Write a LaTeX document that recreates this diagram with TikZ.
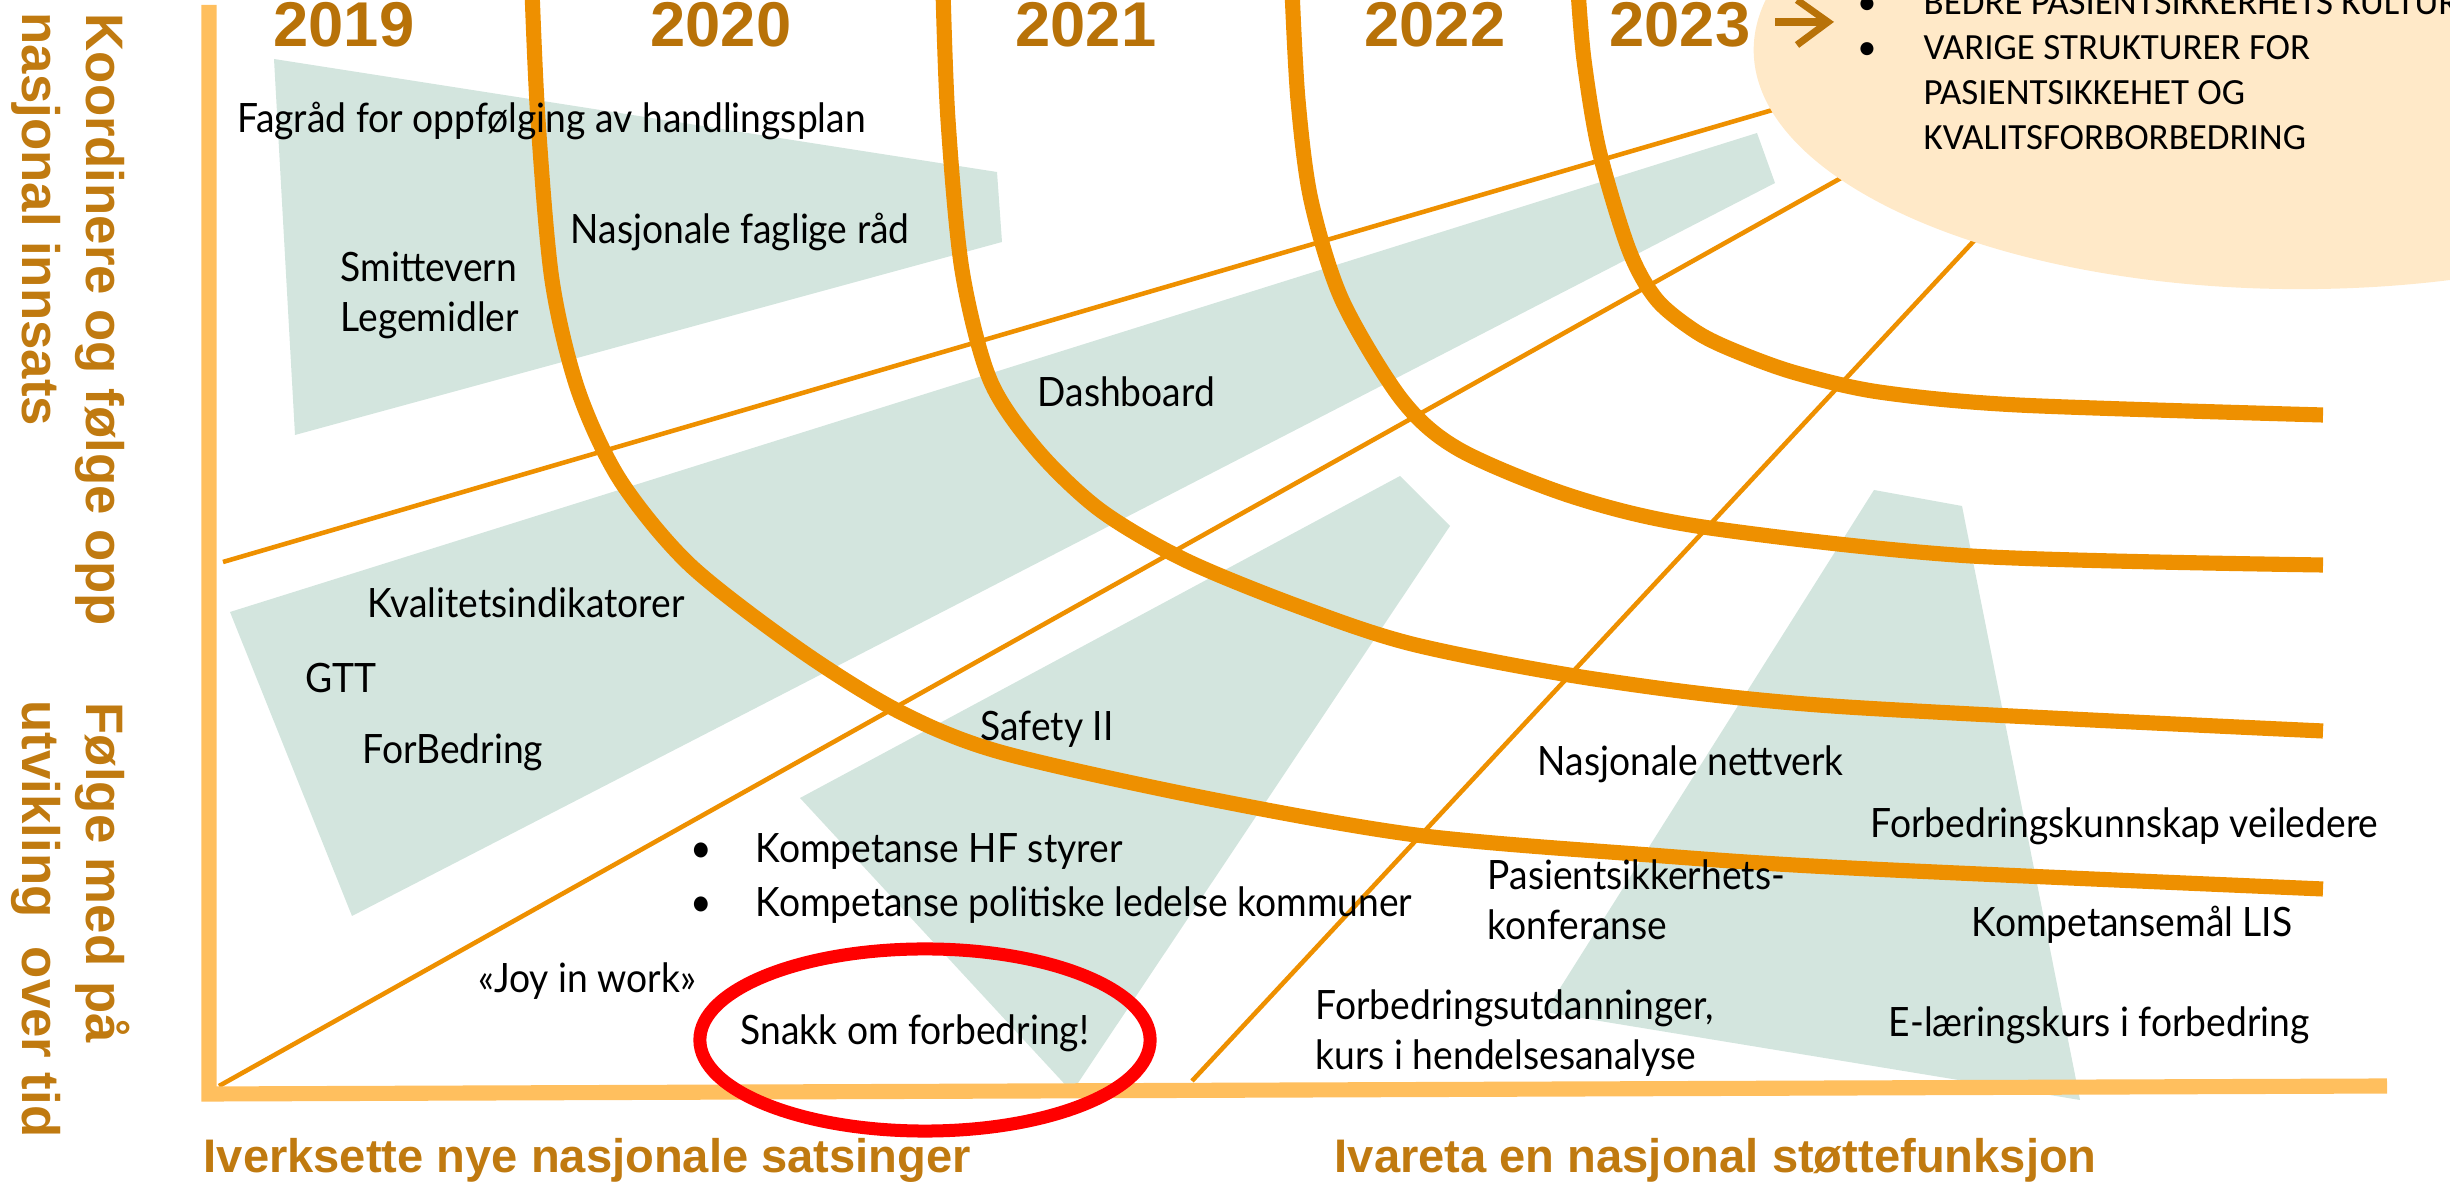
\documentclass[tikz,border=0pt]{standalone}
\usepackage{fontspec}
\setmainfont{Liberation Sans}
\newfontfamily\bodyfont{Lato}[FakeStretch=0.92]
\newfontfamily\calfont{Carlito}
\definecolor{sagec}{RGB}{211,229,222}
\definecolor{orngc}{RGB}{238,144,0}
\definecolor{axisc}{RGB}{255,191,94}
\definecolor{peachc}{RGB}{255,233,200}
\definecolor{yearc}{RGB}{184,114,8}
\definecolor{labc}{RGB}{192,122,16}
\begin{document}
\begin{tikzpicture}[x=0.01cm,y=-0.01cm,
  greenshape/.style={fill=sagec, draw=none},
  thinline/.style={draw=orngc, line width=1.3pt},
  bigcurve/.style={draw=orngc, line width=4.3pt},
  axisline/.style={draw=axisc, line width=4.3pt},
  txt/.style={anchor=base west, inner sep=0pt, font={\bodyfont\fontsize{11.5}{13}\selectfont}},
  bul/.style={anchor=base, inner sep=0pt, font={\bodyfont\fontsize{11.5}{13}\selectfont}},
  yearlab/.style={anchor=base, inner sep=0pt, text=yearc, font={\bfseries\fontsize{18}{20}\selectfont}},
  vlab/.style={rotate=-90, anchor=base west, inner sep=0pt, text=labc, font={\bfseries\fontsize{15}{17}\selectfont}},
  hlab/.style={anchor=base west, inner sep=0pt, text=labc, font={\bfseries\fontsize{13.4}{15}\selectfont}},
  caltxt/.style={anchor=base west, inner sep=0pt, font={\calfont\fontsize{10.5}{12}\selectfont}},
  calbul/.style={anchor=base, inner sep=0pt, font={\calfont\fontsize{10.5}{12}\selectfont}},
]
\useasboundingbox (0,0) rectangle (2450,1186);
\clip (0,0) rectangle (2450,1186);

% green shapes
\fill[greenshape] (274,59) -- (997,172) -- (1002,242) -- (295,435) -- cycle;
\fill[greenshape] (230,612) -- (1757,133) -- (1775,183) -- (352,916) -- cycle;
\fill[greenshape] (800,798) -- (1400,476) -- (1450,526) -- (1072,1092) -- cycle;
\fill[greenshape] (1874,490) -- (1962,506) -- (2080,1100) -- (1545,1012) -- cycle;

% thin lines
\coordinate (l1a) at (223,562); \coordinate (l1b) at (1800,102);
\coordinate (l2a) at (219,1086); \coordinate (l2b) at (1850,173);
\coordinate (l3a) at (1192,1081); \coordinate (l3b) at (1985,229);
\draw[thinline] (l1a) -- (l1b);
\draw[thinline] (l2a) -- (l2b);
\draw[thinline] (l3a) -- (l3b);

% goal ellipse
\fill[peachc] (2300,50) ellipse [x radius=5.46cm, y radius=2.39cm];

% thick year curves
\draw[bigcurve] plot[smooth, tension=0.5] coordinates {(532,-10) (538,120) (552,280) (578,390) (620,480) (690,565) (800,650) (900,712) (1000,752) (1200,797) (1416,835) (1650,855) (1850,868) (2323,889)};
\draw[bigcurve] plot[smooth, tension=0.5] coordinates {(943,-10) (948,120) (962,270) (990,380) (1037,450) (1100,510) (1185,560) (1300,607) (1416,645) (1601,680) (1832,706) (2323,731)};
\draw[bigcurve] plot[smooth, tension=0.5] coordinates {(1292,-10) (1298,100) (1311,200) (1342,300) (1402,400) (1460,450) (1574,497) (1703,527) (1971,556) (2323,565)};
\draw[bigcurve] plot[smooth, tension=0.5] coordinates {(1578,-10) (1584,60) (1599,150) (1629,250) (1657,300) (1698,333) (1740,353) (1796,373) (1879,392) (2018,405) (2323,415)};

% axes
\coordinate (axtop) at (209,5);
\coordinate (axcorner) at (209,1094);
\coordinate (axright) at (2387,1086);
\draw[axisline] (axtop) -- (axcorner) -- (axright);

% red ellipse
\draw[red, line width=3.7pt] (925,1040) ellipse [x radius=2.25cm, y radius=0.91cm];

% years
\node[yearlab] (y19) at (344,47) {2019};
\node[yearlab] (y20) at (721,47) {2020};
\node[yearlab] (y21) at (1086,47) {2021};
\node[yearlab] (y22) at (1435,47) {2022};
\node[yearlab] (y23) at (1680,47) {2023};
\coordinate (arA) at (1775,22); \coordinate (arB) at (1826,22);
\coordinate (arT) at (1797,0); \coordinate (arTip) at (1828,22); \coordinate (arD) at (1797,45);
\draw[yearc, line width=2pt] (arA) -- (arB);
\draw[yearc, line width=2pt] (arT) -- (arTip) -- (arD);

% ellipse text
\node[calbul] (eb1) at (1867,15) {\textbullet};
\node[calbul] (eb2) at (1867,60) {\textbullet};
\node[caltxt] (e1) at (1923,15) {BEDRE PASIENTSIKKERHETS KULTUR};
\node[caltxt] (e2) at (1923,60) {VARIGE STRUKTURER FOR};
\node[caltxt] (e3) at (1923,105) {PASIENTSIKKEHET OG};
\node[caltxt] (e4) at (1923,150) {KVALITSFORBORBEDRING};

% axis labels
\node[vlab] (v1) at (87,13) {Koordinere og følge opp};
\node[vlab] (v2) at (22,12) {nasjonal innsats};
\node[vlab] (v3) at (87,702) {Følge med på};
\node[vlab] (v4) at (22,700) {utvikling\ \ over tid};
\node[hlab] (h1) at (203,1173) {Iverksette nye nasjonale satsinger};
\node[hlab] (h2) at (1334,1173) {Ivareta en nasjonal støttefunksjon};

% body texts
\node[txt] (fag) at (237,133) {Fagråd for oppfølging av handlingsplan};
\node[txt] (smitte) at (340,282) {Smittevern};
\node[txt] (lege) at (340,332) {Legemidler};
\node[txt] (nfr) at (570,244) {Nasjonale faglige råd};
\node[txt] (dash) at (1037,407) {Dashboard};
\node[txt] (kval) at (367,618) {Kvalitetsindikatorer};
\node[txt] (gtt) at (305,693) {GTT};
\node[txt] (forb) at (362,764) {ForBedring};
\node[txt] (safety) at (980,741) {Safety II};
\node[bul] (kb1) at (701,863) {•};
\node[bul] (kb2) at (701,917) {•};
\node[txt] (komp1) at (755,863) {Kompetanse HF styrer};
\node[txt] (komp2) at (755,917) {Kompetanse politiske ledelse kommuner};
\node[txt] (joy) at (478,993) {«Joy in work»};
\node[txt] (snakk) at (740,1045) {Snakk om forbedring!};
\node[txt] (nett) at (1537,776) {Nasjonale nettverk};
\node[txt] (fkv) at (1870,838) {Forbedringskunnskap veiledere};
\node[txt] (pas1) at (1487,890) {Pasientsikkerhets-};
\node[txt] (pas2) at (1487,940) {konferanse};
\node[txt] (fut1) at (1315,1020) {Forbedringsutdanninger,};
\node[txt] (fut2) at (1315,1070) {kurs i hendelsesanalyse};
\node[txt] (lis) at (1971,937) {Kompetansemål LIS};
\node[txt] (elr) at (1888,1037) {E-læringskurs i forbedring};
\end{tikzpicture}
\end{document}
